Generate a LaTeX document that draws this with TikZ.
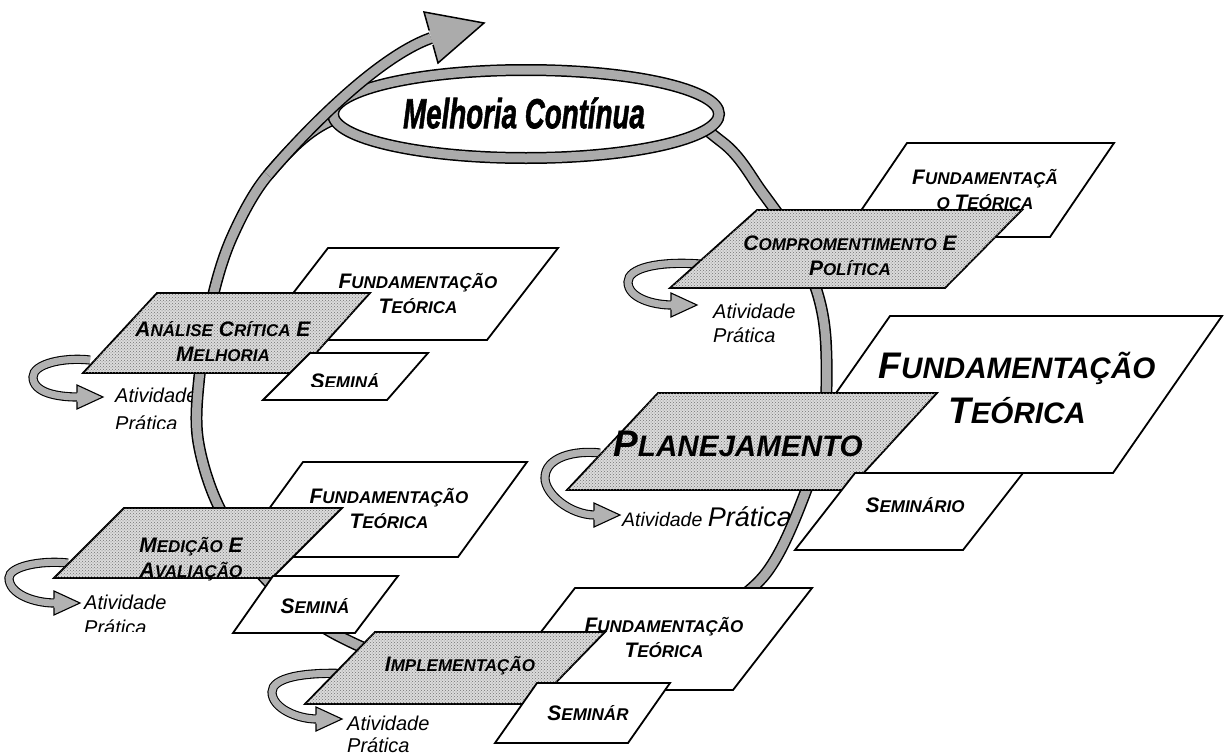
\documentclass[tikz,border=0pt]{standalone}
\usepackage{fontspec}
\setmainfont{Liberation Sans}
\newfontfamily\heavyfont{Liberation Sans}[FakeBold=1.6]
\usetikzlibrary{patterns}
\newcommand\cA[2]{{\fontsize{21}{25}\selectfont#1}{\fontsize{17}{25}\selectfont#2}}
\newcommand\cB[2]{{\fontsize{37}{45}\selectfont#1}{\fontsize{29.6}{45}\selectfont#2}}
\newcommand\actloop[6]{%
\begin{scope}[shift={(#1,#2)}]
\draw[thinband] (#3,#4) .. controls ({#5+30},{#4-3}) and (#5,{#4+4}) .. (#5,#6) .. controls (#5,{#6+16}) and ({#5+25},0) .. (-25,0);
\fill[black!30] (-26,-12) -- (0,0) -- (-26,12) -- cycle;
\draw[line width=1.1pt, line join=miter] (-26,-4.5) -- (-26,-12) -- (0,0) -- (-26,12) -- (-26,4.5);
\end{scope}}
\begin{document}
\begin{tikzpicture}[x=1pt,y=-1pt,
  band/.style={draw=black, line width=1.5pt, double=black!33, double distance=9pt},
  thinband/.style={draw=black, line width=1.1pt, double=black!30, double distance=7pt},
  box/.style={draw=black, line width=1.8pt, fill=white, line join=miter},
  gbox/.style={draw=black, line width=1.8pt, fill=black!14, line join=miter, postaction={pattern=crosshatch dots, pattern color=black!55}},
  lbl/.style={font=\bfseries\itshape\fontsize{21}{25}\selectfont, align=center, inner sep=0pt},
  lblB/.style={font=\bfseries\itshape\fontsize{37}{45}\selectfont, align=center, inner sep=0pt},
  act/.style={font=\itshape\fontsize{20}{24}\selectfont, anchor=west, inner sep=0pt}]
\useasboundingbox (0,0) rectangle (1226,755);

% practice activity texts (under the ring)
\node[act] (aC1) at (713,311) {Atividade};
\node[act] (aC2) at (713,335) {Prática};
\node[act] (aA1) at (115,395) {Atividade};
\begin{scope}\clip (0,380) rectangle (400,428);
\node[act] (aA2) at (115,423) {Prática};
\end{scope}
\node[anchor=base west, inner sep=0pt, font=\itshape] (aP) at (622,526) {{\fontsize{19.5}{24}\selectfont Atividade }{\fontsize{27}{30}\selectfont Prática}};
\node[act] (aM1) at (84,602) {Atividade};
\begin{scope}\clip (0,590) rectangle (400,631);
\node[act] (aM2) at (84,627) {Prática};
\end{scope}
\node[act] (aI1) at (347,723) {Atividade};
\node[act] (aI2) at (347,745) {Prática};

% the cycle ring
\draw[band] plot[smooth cycle, tension=0.55] coordinates {(330,121) (268,175) (232,237) (212,300) (199,380) (198,440) (218,505) (262,575) (335,634) (450,676) (580,676) (690,628) (763,577) (804,496) (824,420) (826,345) (818,295) (796,242) (762,192) (722,142) (640,100) (440,96)};

% Melhoria Continua
\draw[band, fill=white] (526,114) ellipse [x radius=193, y radius=44];
\node[font=\heavyfont\bfseries\itshape\fontsize{42}{42}\selectfont, inner sep=0pt] (mc) at (524,113) {\scalebox{0.66}[1]{Melhoria Contínua}};
\draw[band] (268,175) .. controls (300,137) and (375,58) .. (431,38);
\fill[black!33] (424,12) -- (484,23) -- (438,63) -- cycle;
\draw[line width=1.5pt, line join=miter] (429.2,30.5) -- (424,12) -- (484,23) -- (438,63) -- (433,45);

% loops
\actloop{697}{305}{3}{-41}{-69}{-23}
\actloop{103}{397}{-13}{-37}{-70}{-20}
\actloop{620}{515}{-20}{-62}{-75}{-37}
\actloop{80}{603}{-12}{-40}{-71}{-25}
\actloop{342}{719}{13}{-45}{-70}{-27}

% cluster: Comprometimento
\draw[box] (907,143) -- (1114,143) -- (1050,237) -- (843,237) -- cycle;
\node[lbl] (fC) at (985,190) {\cA{F}{UNDAMENTAÇÃ}\\\cA{}{O }\cA{T}{EÓRICA}};
\draw[gbox] (757,210) -- (1022,210) -- (945,288) -- (670,288) -- cycle;
\node[lbl] (comp) at (850,256) {\cA{C}{OMPROMENTIMENTO} \cA{E}{}\\\cA{P}{OLÍTICA}};

% cluster: Planejamento
\draw[box] (890,316) -- (1222,316) -- (1113,473) -- (780,473) -- cycle;
\node[lblB] (fP) at (1017,388) {\cB{F}{UNDAMENTAÇÃO}\\\cB{T}{EÓRICA}};
\draw[gbox] (658,393) -- (937,393) -- (848,490) -- (567,490) -- cycle;
\node[lblB] (plan) at (738,444) {\cB{P}{LANEJAMENTO}};
\draw[box] (855,473) -- (1023,473) -- (963,550) -- (795,550) -- cycle;
\node[lbl] (sP) at (915,505) {\cA{S}{EMINÁRIO}};

% cluster: Analise
\draw[box] (328,248) -- (558,248) -- (487,340) -- (257,340) -- cycle;
\node[lbl] (fA) at (418,294) {\cA{F}{UNDAMENTAÇÃO}\\\cA{T}{EÓRICA}};
\draw[gbox] (157,293) -- (370,293) -- (298,373) -- (83,373) -- cycle;
\node[lbl] (anal) at (223,342) {\cA{A}{NÁLISE} \cA{C}{RÍTICA} \cA{E}{}\\\cA{M}{ELHORIA}};
\draw[box] (310,353) -- (428,353) -- (387,400) -- (263,400) -- cycle;
\begin{scope}\clip (260,355) rectangle (430,386);
\node[lbl] (sA) at (345,381) {\cA{S}{EMINÁ}};
\end{scope}

% cluster: Medicao
\draw[box] (303,462) -- (527,462) -- (458,557) -- (234,557) -- cycle;
\node[lbl] (fM) at (389,509) {\cA{F}{UNDAMENTAÇÃO}\\\cA{T}{EÓRICA}};
\draw[gbox] (124,508) -- (342,508) -- (272,578) -- (54,578) -- cycle;
\node[lbl] (med) at (191,559) {\cA{M}{EDIÇÃO} \cA{E}{}\\\cA{A}{VALIAÇÃO}};
\draw[box] (273,576) -- (398,576) -- (355,633) -- (233,633) -- cycle;
\node[lbl] (sM) at (315,606) {\cA{S}{EMINÁ}};

% cluster: Implementacao
\draw[box] (575,588) -- (812,588) -- (733,690) -- (496,690) -- cycle;
\node[lbl] (fI) at (664,638) {\cA{F}{UNDAMENTAÇÃO}\\\cA{T}{EÓRICA}};
\draw[gbox] (375,632) -- (605,632) -- (535,704) -- (305,704) -- cycle;
\node[lbl] (impl) at (460,666) {\cA{I}{MPLEMENTAÇÃO}};
\draw[box] (537,683) -- (670,683) -- (628,743) -- (495,743) -- cycle;
\node[lbl] (sI) at (588,713) {\cA{S}{EMINÁR}};
\end{tikzpicture}
\end{document}
